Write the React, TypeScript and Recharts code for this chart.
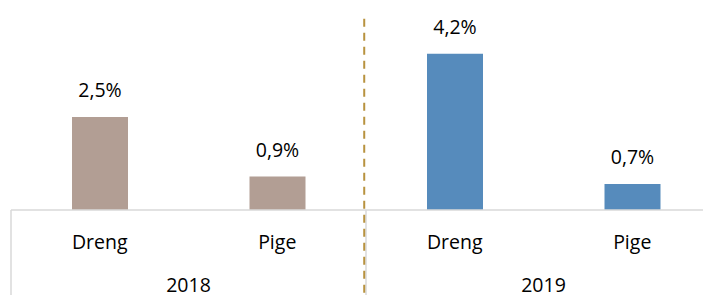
import React from "react";
import { BarChart, Bar, XAxis, YAxis, Cell, LabelList, ReferenceLine } from "recharts";

const categories = ["Dreng", "Pige", "Dreng", "Pige"];
const years = ["2018", "2018", "2019", "2019"];
const positions = [0.5, 1.5, 2.5, 3.5];
const values = [2.5, 0.9, 4.2, 0.7];
const yearColors: Record<string, string> = { "2018": "#b29e94", "2019": "#568bbc" };

const data = categories.map((c, i) => ({ gender: c, year: years[i], pos: positions[i], value: values[i] }));

const font = "'Open Sans', sans-serif";
const fmt = (v: number) => `${v.toFixed(1).replace(".", ",")}%`;

const GenderTick = (props: any) => {
  const { x, y, payload } = props;
  return (
    <text x={x} y={y + 31} textAnchor="middle" fontFamily={font} fontSize={19.5} fill="#000">
      {payload.value}
    </text>
  );
};

const YearTick = (props: any) => {
  const { x, y, payload } = props;
  return (
    <text x={x} y={y - 1} textAnchor="middle" fontFamily={font} fontSize={19.5} fill="#000">
      {payload.value}
    </text>
  );
};

export default function App() {
  return (
    <div style={{ width: 703, height: 287, overflow: "hidden" }}>
      <BarChart
        width={713}
        height={300}
        data={data}
        margin={{ top: 16, right: 0, left: 3, bottom: 8 }}
      >
        <XAxis
          dataKey="gender"
          height={45}
          tick={<GenderTick />}
          tickLine={false}
          axisLine={{ stroke: "#d9d9d9", strokeWidth: 1.5 }}
          interval={0}
        />
        <XAxis
          xAxisId="year"
          dataKey="year"
          allowDuplicatedCategory={false}
          height={45}
          tick={<YearTick />}
          tickLine={false}
          axisLine={false}
        />
        <XAxis xAxisId="n" dataKey="pos" type="number" domain={[0, 4]} allowDataOverflow hide />
        <YAxis hide domain={[0, 5]} />
        <Bar dataKey="value" barSize={56} isAnimationActive={false}>
          {data.map((d, i) => (
            <Cell key={i} fill={yearColors[d.year]} />
          ))}
          <LabelList
            dataKey="value"
            position="top"
            offset={20}
            formatter={(v: any) => fmt(Number(v))}
            style={{ fontFamily: font, fontSize: 19.5, fill: "#000" }}
          />
        </Bar>
        <ReferenceLine
          xAxisId="n"
          segment={[{ x: 0, y: 0 }, { x: 0, y: -2.6 }]}
          stroke="#d9d9d9"
          strokeWidth={1.5}
          ifOverflow="visible"
        />
        <ReferenceLine
          xAxisId="n"
          segment={[{ x: 2, y: 0 }, { x: 2, y: -2.6 }]}
          stroke="#d9d9d9"
          strokeWidth={1.5}
          ifOverflow="visible"
        />
        <ReferenceLine
          xAxisId="n"
          segment={[{ x: 1.99, y: 5.14 }, { x: 1.99, y: -2.6 }]}
          stroke="#b8923f"
          strokeWidth={2}
          strokeDasharray="8 6"
          ifOverflow="visible"
        />
      </BarChart>
    </div>
  );
}
